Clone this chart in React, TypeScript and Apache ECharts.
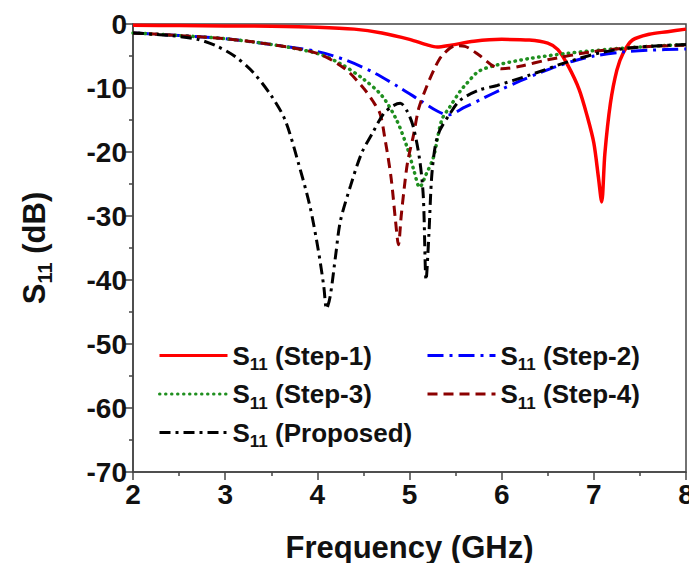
import React, { useEffect, useRef } from "react";
import * as echarts from "echarts";

// Frequency (GHz) / S11 (dB) pairs
const step1: number[][] = [
  [2.0, -0.2], [2.5, -0.25], [3.0, -0.3], [3.5, -0.35], [4.0, -0.5], [4.4, -0.8],
  [4.7, -1.4], [5.0, -2.4], [5.2, -3.3], [5.3, -3.6], [5.45, -3.3], [5.7, -2.7],
  [6.0, -2.4], [6.3, -2.5], [6.5, -3.0], [6.61, -4.0], [6.72, -6.5], [6.84, -10.2],
  [6.93, -14.5], [7.0, -18.6], [7.05, -24], [7.085, -27.8], [7.12, -20.2], [7.18, -12.4],
  [7.25, -7.2], [7.32, -4.5], [7.42, -2.5], [7.6, -1.6], [7.8, -1.2], [8.0, -0.8],
];
const step2: number[][] = [
  [2.0, -1.4], [2.5, -1.8], [3.0, -2.3], [3.5, -3.2], [4.0, -4.3], [4.3, -5.6],
  [4.6, -7.5], [4.9, -10.0], [5.1, -11.8], [5.3, -13.6], [5.42, -14.2], [5.6, -13.0],
  [5.8, -11.6], [6.0, -10.2], [6.2, -8.9], [6.4, -7.7], [6.6, -6.6], [6.8, -5.7],
  [7.0, -5.0], [7.3, -4.4], [7.6, -4.1], [8.0, -3.9],
];
const step3: number[][] = [
  [2.0, -1.4], [2.5, -1.8], [3.0, -2.3], [3.5, -3.2], [4.0, -4.6], [4.25, -6.2],
  [4.5, -8.6], [4.7, -11.2], [4.86, -15], [4.98, -19.5], [5.05, -23], [5.11, -25.5],
  [5.18, -23.5], [5.26, -20.8], [5.35, -15], [5.44, -12.9], [5.55, -10.5], [5.62, -9.3],
  [5.75, -7.4], [5.95, -6.4], [6.3, -5.4], [6.7, -4.6], [7.2, -3.9], [7.6, -3.5], [8.0, -3.2],
];
const step4: number[][] = [
  [2.0, -1.4], [2.5, -1.8], [3.0, -2.3], [3.5, -3.2], [4.0, -4.6], [4.3, -7.0],
  [4.5, -10], [4.6, -12], [4.68, -14], [4.73, -17.6], [4.8, -24], [4.85, -31],
  [4.88, -34.5], [4.91, -30], [4.94, -26], [4.98, -21.5], [5.04, -17.6], [5.1, -13.2],
  [5.18, -10], [5.27, -7.0], [5.35, -5.0], [5.5, -3.4], [5.6, -3.5], [5.75, -4.8],
  [5.9, -6.5], [6.0, -7.0], [6.2, -6.6], [6.5, -5.6], [7.0, -4.3], [7.5, -3.6], [8.0, -3.3],
];
const proposed: number[][] = [
  [2.0, -1.4], [2.4, -1.8], [2.7, -2.4], [2.9, -3.4], [3.1, -5.0], [3.3, -7.5],
  [3.5, -11.2], [3.65, -15], [3.8, -22], [3.92, -28.5], [4.01, -35.3], [4.07, -41],
  [4.1, -44.5], [4.14, -42.5], [4.2, -36], [4.25, -30.8], [4.36, -25.3], [4.48, -20.2],
  [4.6, -17], [4.72, -14], [4.82, -12.8], [4.9, -12.4], [4.97, -13.5], [5.04, -16],
  [5.11, -21.2], [5.15, -27], [5.18, -40], [5.21, -33], [5.24, -24], [5.28, -19],
  [5.33, -16.6], [5.44, -14], [5.55, -11.9], [5.76, -10.3], [5.95, -9.6], [6.3, -8.0],
  [6.7, -6.0], [7.1, -4.4], [7.5, -3.6], [8.0, -3.2],
];

const seriesNames = ["S11 (Step-1)", "S11 (Step-2)", "S11 (Step-3)", "S11 (Step-4)", "S11 (Proposed)"];
const xTicks = { min: 2, max: 8, interval: 1 };
const yTicks = { min: -70, max: 0, interval: 10 };

const FONT = '"Liberation Sans", Arial, Helvetica, sans-serif';

const legendRich = {
  m: { fontFamily: FONT, fontWeight: "bold", fontSize: 26, color: "#111", lineHeight: 28 },
  s: { fontFamily: FONT, fontWeight: "bold", fontSize: 17, color: "#111", lineHeight: 17, padding: [18, 0, 0, 0] },
};
const axisRich = {
  m: { fontFamily: FONT, fontWeight: "bold", fontSize: 31, color: "#111", lineHeight: 33 },
  s: { fontFamily: FONT, fontWeight: "bold", fontSize: 20, color: "#111", lineHeight: 20, padding: [21, 0, 0, 0] },
};

const fmt = (name: string) => `{m|S}{s|11}{m|${name.replace("S11", "")}}`;

export default function App() {
  const ref = useRef<HTMLDivElement>(null);
  useEffect(() => {
    if (!ref.current) return;
    const chart = echarts.init(ref.current, undefined, { renderer: "svg" });
    const mk = (name: string, data: number[][], color: string, type: any, width: number, cap: any = "butt") => ({
      name,
      type: "line",
      data,
      symbol: "none",
      showSymbol: false,
      smooth: 0.3,
      lineStyle: { color, width, type, cap },
      itemStyle: { color },
      z: 3,
    });
    const legendCommon = {
      orient: "vertical",
      itemWidth: 68,
      itemHeight: 14,
      itemGap: 3.5,
      itemTextGap: 6,
      padding: 0,
      lineStyle: { width: 3 },
      itemStyle: { opacity: 0 },
      textStyle: { rich: legendRich },
      formatter: fmt,
    };
    chart.setOption({
      animation: false,
      backgroundColor: "#fff",
      grid: { left: 133, right: 11, top: 24, bottom: 99, show: true, borderColor: "#444", borderWidth: 1.5 },
      legend: [
        { ...legendCommon, data: [seriesNames[0], seriesNames[2], seriesNames[4]], left: 158, top: 338 },
        { ...legendCommon, data: [seriesNames[1], seriesNames[3]], left: 426, top: 338 },
      ],
      xAxis: {
        type: "value",
        min: xTicks.min,
        max: xTicks.max,
        interval: xTicks.interval,
        name: "Frequency (GHz)",
        nameLocation: "middle",
        nameGap: 60,
        nameTextStyle: { fontFamily: FONT, fontWeight: "bold", fontSize: 31, color: "#111" },
        axisLine: { show: true, onZero: false, lineStyle: { color: "#444", width: 1.5 } },
        axisTick: { show: true, inside: false, length: 8, lineStyle: { color: "#444", width: 1.5 } },
        minorTick: { show: true, splitNumber: 2, length: 4, lineStyle: { color: "#444", width: 1.5 } },
        splitLine: { show: false },
        axisLabel: { fontFamily: FONT, fontWeight: "bold", fontSize: 28, color: "#111", margin: 8 },
      },
      yAxis: {
        type: "value",
        min: yTicks.min,
        max: yTicks.max,
        interval: yTicks.interval,
        name: "{m|S}{s|11}{m| (dB)}",
        nameLocation: "middle",
        nameGap: 82,
        nameTextStyle: { rich: axisRich },
        axisLine: { show: true, onZero: false, lineStyle: { color: "#444", width: 1.5 } },
        axisTick: { show: true, inside: false, length: 8, lineStyle: { color: "#444", width: 1.5 } },
        minorTick: { show: true, splitNumber: 2, length: 4, lineStyle: { color: "#444", width: 1.5 } },
        splitLine: { show: false },
        axisLabel: { fontFamily: FONT, fontWeight: "bold", fontSize: 28, color: "#111", margin: 6 },
      },
      series: [
        mk(seriesNames[0], step1, "#ff0000", "solid", 3.5),
        mk(seriesNames[1], step2, "#0000ff", [16, 6, 3, 6], 3),
        mk(seriesNames[2], step3, "#1f8f1f", [0.5, 5.5], 3.5, "round"),
        mk(seriesNames[3], step4, "#8b0000", [10, 6], 3),
        mk(seriesNames[4], proposed, "#000000", [11, 5, 3, 5], 3),
      ],
    });
    return () => chart.dispose();
  }, []);
  return <div ref={ref} style={{ width: 697, height: 571, margin: -8 }} />;
}
